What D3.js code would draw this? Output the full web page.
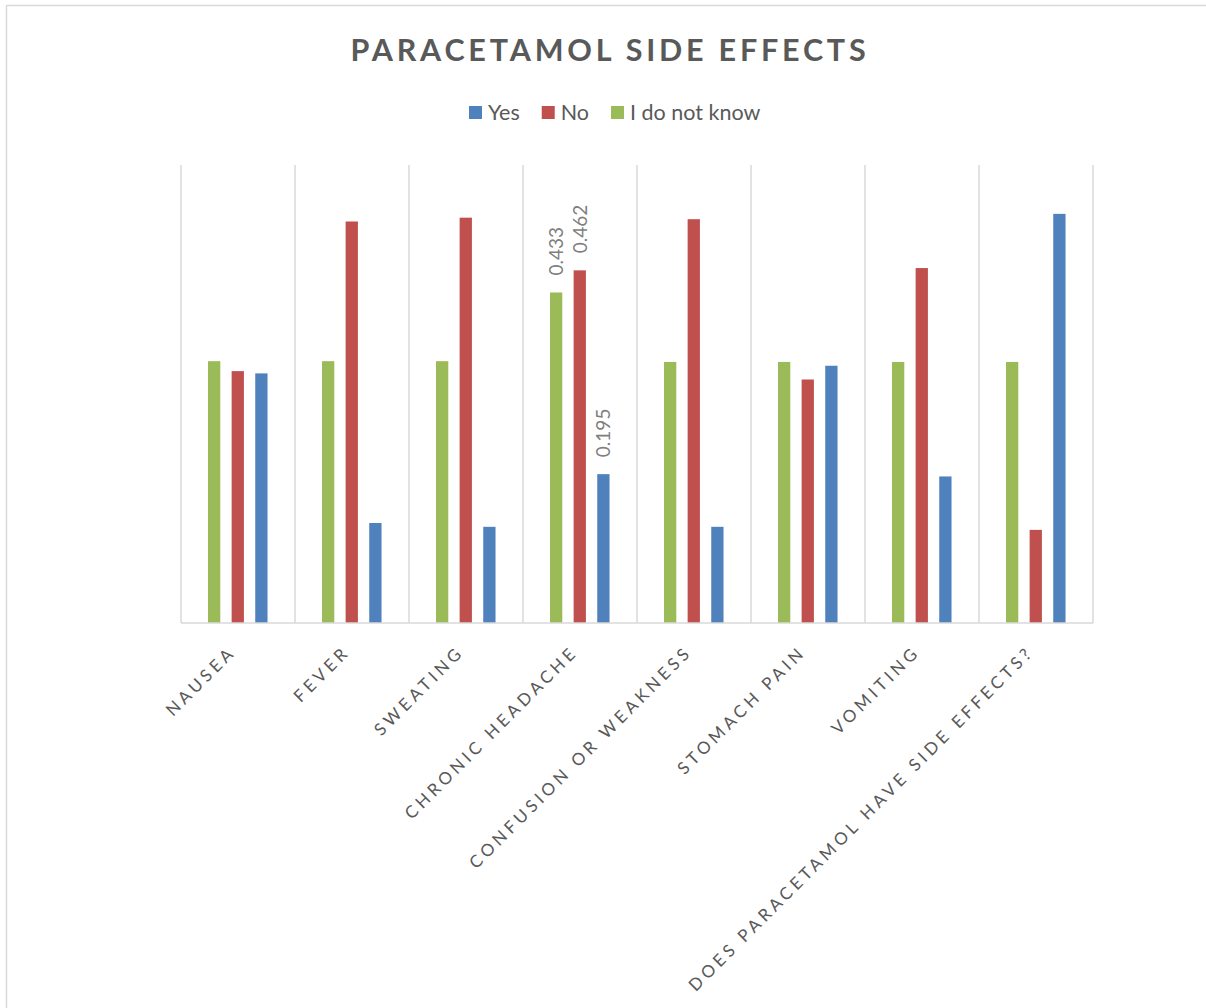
<!DOCTYPE html>
<html>
<head>
<meta charset="utf-8">
<script src="https://cdn.jsdelivr.net/npm/d3@7"></script>
<style>
  html, body { margin: 0; padding: 0; background: #ffffff; }
  svg { display: block; }
  text { font-family: Lato, "Open Sans", "Liberation Sans", sans-serif; }
</style>
</head>
<body>
<svg id="chart" width="1206" height="1008"></svg>
<script>
// Survey answers per side effect (share of respondents)
const categories = [
  "NAUSEA", "FEVER", "SWEATING", "CHRONIC HEADACHE",
  "CONFUSION OR WEAKNESS", "STOMACH PAIN", "VOMITING",
  "DOES PARACETAMOL HAVE SIDE EFFECTS?"
];
const yesValues      = [0.327, 0.131, 0.126, 0.195, 0.126, 0.337, 0.192, 0.536];
const noValues       = [0.330, 0.526, 0.531, 0.462, 0.529, 0.319, 0.465, 0.122];
const dontKnowValues = [0.343, 0.343, 0.343, 0.433, 0.342, 0.342, 0.342, 0.342];

// Series as drawn inside each group (left to right) and as listed in the legend
const seriesDraw   = ["I do not know", "No", "Yes"];
const seriesLegend = ["Yes", "No", "I do not know"];
const seriesValues = { "Yes": yesValues, "No": noValues, "I do not know": dontKnowValues };
const seriesColors = { "Yes": "#4f81bd", "No": "#c0504d", "I do not know": "#9bbb59" };

// Only this category carries value labels
const labelledCategories = ["CHRONIC HEADACHE"];

const yDomain = [0, 0.6];

const svg = d3.select("#chart");
const W = 1206, H = 1008;
const plot = { left: 181, right: 1093, top: 165, bottom: 623 };
const textColor = "#595959";
const gridColor = "#d9d9d9";

// chart frame (left and top edges visible)
svg.append("path")
  .attr("d", `M6.5,${H} L6.5,5.5 L${W},5.5`)
  .attr("fill", "none")
  .attr("stroke", gridColor)
  .attr("stroke-width", 1.5);

// Title
svg.append("text")
  .attr("x", 610)
  .attr("y", 61)
  .attr("text-anchor", "middle")
  .attr("font-size", 30.5)
  .attr("font-weight", 700)
  .attr("fill", textColor)
  .attr("letter-spacing", 3.8)
  .text("PARACETAMOL SIDE EFFECTS");

// Legend
const legend = svg.append("g").attr("transform", "translate(469,0)");
let lx = 0;
seriesLegend.forEach(name => {
  const g = legend.append("g").attr("transform", `translate(${lx},0)`);
  g.append("rect")
    .attr("x", 0).attr("y", 106)
    .attr("width", 13).attr("height", 13)
    .attr("fill", seriesColors[name]);
  const t = g.append("text")
    .attr("x", 19).attr("y", 120)
    .attr("font-size", 21.5)
    .attr("fill", textColor)
    .text(name);
  lx += 19 + t.node().getComputedTextLength() + 22;
});

// Scales
const x0 = d3.scaleBand()
  .domain(categories)
  .range([plot.left, plot.right])
  .paddingInner(0).paddingOuter(0);

const bw = x0.bandwidth();
const x1 = d3.scaleBand()
  .domain(seriesDraw)
  .range([bw * 0.237, bw * 0.759])
  .paddingInner(0.48)
  .paddingOuter(0);

const y = d3.scaleLinear().domain(yDomain).range([plot.bottom, plot.top]);

// Vertical category separators
const boundaries = categories.map(c => x0(c)).concat([plot.right]);
svg.append("g")
  .selectAll("line")
  .data(boundaries)
  .join("line")
  .attr("x1", d => d).attr("x2", d => d)
  .attr("y1", plot.top).attr("y2", plot.bottom)
  .attr("stroke", gridColor)
  .attr("stroke-width", 1.5);

// Bars
const groups = svg.append("g")
  .selectAll("g")
  .data(categories)
  .join("g")
  .attr("transform", d => `translate(${x0(d)},0)`);

groups.selectAll("rect")
  .data((c, i) => seriesDraw.map(s => ({ cat: c, series: s, value: seriesValues[s][i] })))
  .join("rect")
  .attr("x", d => x1(d.series))
  .attr("width", x1.bandwidth())
  .attr("y", d => y(d.value))
  .attr("height", d => y(0) - y(d.value))
  .attr("fill", d => seriesColors[d.series]);

// Value labels (rotated)
groups.filter(c => labelledCategories.includes(c))
  .selectAll("text.value")
  .data((c) => {
    const i = categories.indexOf(c);
    return seriesDraw.map(s => ({ series: s, value: seriesValues[s][i] }));
  })
  .join("text")
  .attr("class", "value")
  .attr("transform", d => `translate(${x1(d.series) + x1.bandwidth() / 2},${y(d.value) - 17}) rotate(-90)`)
  .attr("dy", "0.36em")
  .attr("font-size", 19)
  .attr("fill", "#7f7f7f")
  .text(d => d3.format(".3f")(d.value));

// Category axis line
svg.append("line")
  .attr("x1", plot.left).attr("x2", plot.right)
  .attr("y1", plot.bottom).attr("y2", plot.bottom)
  .attr("stroke", gridColor)
  .attr("stroke-width", 1.5);

// Category labels, rotated 45 degrees
svg.append("g")
  .selectAll("text")
  .data(categories)
  .join("text")
  .attr("transform", d => `translate(${x0(d) + bw / 2 - 1},${plot.bottom + 30}) rotate(-45)`)
  .attr("text-anchor", "end")
  .attr("font-size", 17)
  .attr("letter-spacing", 3.9)
  .attr("fill", textColor)
  .text(d => d);
</script>
</body>
</html>
